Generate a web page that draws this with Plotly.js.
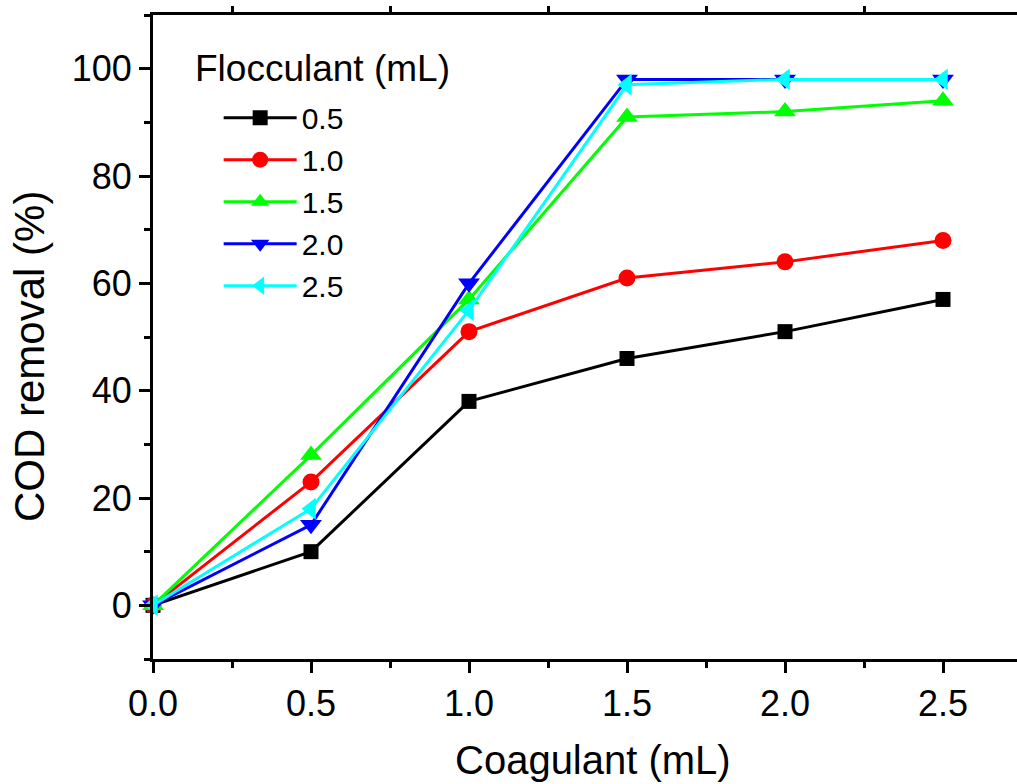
<!DOCTYPE html>
<html><head><meta charset="utf-8">
<script src="https://cdn.plot.ly/plotly-3.0.1.min.js"></script>
<style>body{margin:0;padding:0;background:#fff}#chart{width:1017px;height:784px}</style>
</head><body><div id="chart"></div>
<script>
const coagulant = [0, 0.5, 1.0, 1.5, 2.0, 2.5];
const seriesNames = ['0.5', '1.0', '1.5', '2.0', '2.5'];
const s05 = [0, 10, 38, 46, 51, 57];
const s10 = [0, 23, 51, 61, 64, 68];
const s15 = [0, 28, 57, 91, 92, 94];
const s20 = [0, 15, 60, 98, 98, 98];
const s25 = [0, 18, 55, 97, 98, 98];
const topMinorTicks = [0.25, 0.75, 1.25, 1.75, 2.25];
const xTickVals = [0, 0.5, 1.0, 1.5, 2.0, 2.5];
const xTickText = ['0.0', '0.5', '1.0', '1.5', '2.0', '2.5'];
const yTickVals = [0, 20, 40, 60, 80, 100];

const colors = ['#000000', '#ff0000', '#00ff00', '#0000ff', '#00ffff'];
const symbols = ['square', 'circle', 'triangle-up', 'triangle-down', 'triangle-left'];
const sizes = [15, 17, 19, 19, 19];
const allSeries = [s05, s10, s15, s20, s25];

const FONT = 'Arial, "Liberation Sans", sans-serif';
const traces = allSeries.map((vals, i) => ({
  x: coagulant, y: vals, name: seriesNames[i], type: 'scatter', mode: 'lines+markers',
  line: {color: colors[i], width: 3},
  marker: {color: colors[i], symbol: symbols[i], size: sizes[i], line: {width: 0}},
  cliponaxis: false
}));
traces.push({x: [], y: [], xaxis: 'x2', yaxis: 'y', showlegend: false, hoverinfo: 'skip', type: 'scatter'});

const W = 1017, H = 784, L = 153, T = 15, B = 125;
const pw = W - L, ph = H - T - B;
const xr = [0, pw / 316];
const layout = {
  width: W, height: H,
  margin: {l: L, r: 0, t: T, b: B},
  paper_bgcolor: '#fff', plot_bgcolor: '#fff',
  font: {family: FONT, color: '#000'},
  showlegend: true,
  legend: {
    x: 0.076, y: 0.881, xanchor: 'left', yanchor: 'top',
    font: {family: FONT, size: 30, color: '#000'},
    bgcolor: 'rgba(0,0,0,0)', itemwidth: 73, tracegroupgap: 0
  },
  xaxis: {
    range: xr, tickvals: xTickVals, ticktext: xTickText,
    showgrid: false, zeroline: false, showline: true, linecolor: '#000', linewidth: 3,
    ticks: 'outside', ticklen: 11, tickwidth: 3, tickcolor: '#000',
    tickfont: {family: FONT, size: 36, color: '#000'},
    minor: {tickvals: topMinorTicks, ticks: 'outside', ticklen: 6, tickwidth: 3, tickcolor: '#000'}
  },
  xaxis2: {
    range: xr, overlaying: 'x', side: 'top', anchor: 'y',
    tickvals: topMinorTicks, showticklabels: false,
    showgrid: false, zeroline: false, showline: true, linecolor: '#000', linewidth: 3,
    ticks: 'outside', ticklen: 6, tickwidth: 3, tickcolor: '#000'
  },
  yaxis: {
    range: [-10, 110], tickvals: yTickVals,
    showgrid: false, zeroline: false, showline: true, linecolor: '#000', linewidth: 3,
    ticks: 'outside', ticklen: 11, tickwidth: 3, tickcolor: '#000',
    tickfont: {family: FONT, size: 36, color: '#000'},
    minor: {tickvals: [-10, 10, 30, 50, 70, 90, 110], ticks: 'outside', ticklen: 6, tickwidth: 3, tickcolor: '#000'}
  },
  annotations: [
    {
      text: 'Flocculant (mL)', xref: 'paper', yref: 'paper',
      x: (193 - L) / pw, y: (H - B - 68) / ph, xanchor: 'left', yanchor: 'middle',
      showarrow: false, font: {family: FONT, size: 37, color: '#000'}
    },
    {
      text: 'Coagulant (mL)', xref: 'paper', yref: 'paper',
      x: (593 - L) / pw, y: (H - B - 760) / ph, xanchor: 'center', yanchor: 'middle',
      showarrow: false, font: {family: FONT, size: 40, color: '#000'}
    },
    {
      text: 'COD removal (%)', xref: 'paper', yref: 'paper', textangle: -90,
      x: (30 - L) / pw, y: (H - B - 357) / ph, xanchor: 'center', yanchor: 'middle',
      showarrow: false, font: {family: FONT, size: 42, color: '#000'}
    }
  ]
};
Plotly.newPlot('chart', traces, layout, {displayModeBar: false, staticPlot: true});
</script></body></html>
